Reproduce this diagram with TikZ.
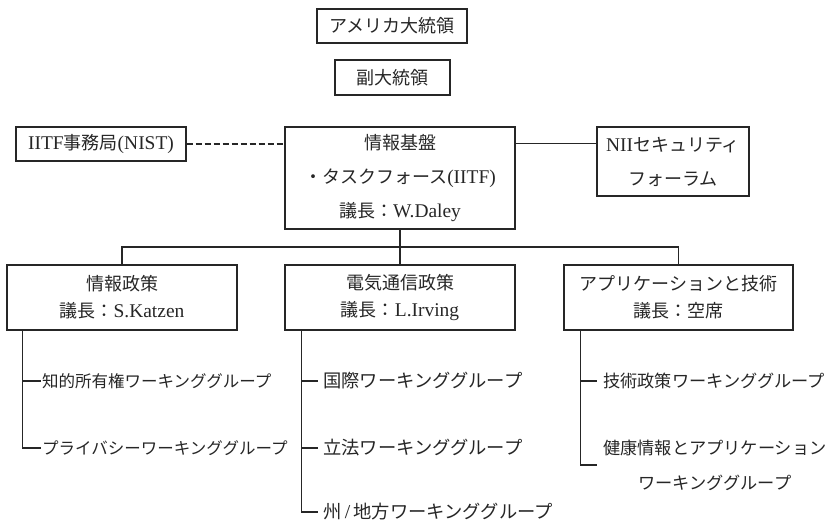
\documentclass[tikz,border=0pt]{standalone}
\usepackage{fontspec}
\setmainfont{Noto Sans CJK JP}
\newfontfamily\latserif[Scale=1.08]{Liberation Serif}
\newcommand\lt[1]{{\latserif #1}}
\definecolor{ink}{HTML}{262626}
\begin{document}
\begin{tikzpicture}[x=1pt,y=-1pt,
  box/.style={draw=ink,line width=1.2pt,inner sep=0pt,align=center,text=ink,
    font=\fontsize{18}{34}\selectfont},
  childbox/.style={box,minimum width=230pt,minimum height=65pt,
    font=\fontsize{18}{27}\selectfont},
  lblL/.style={anchor=west,inner xsep=1pt,inner ysep=0pt,text=ink,font=\fontsize{16.5}{20}\selectfont},
  lblM/.style={anchor=west,inner xsep=5pt,inner ysep=0pt,text=ink,font=\fontsize{18.3}{22}\selectfont},
  lblR/.style={anchor=west,inner xsep=6pt,inner ysep=0pt,text=ink,align=center,font=\fontsize{17.2}{35}\selectfont},
  link/.style={draw=ink,line width=1.2pt},
  dashlink/.style={draw=ink,line width=2pt,dash pattern=on 6pt off 3pt}
]
\useasboundingbox (0,0) rectangle (834,524);

% top boxes
\node[box,minimum width=150pt,minimum height=34pt] (pres) at (392,26) {アメリカ大統領};
\node[box,minimum width=115pt,minimum height=35pt] (vp) at (392.5,77.5) {副大統領};

\node[box,minimum width=170pt,minimum height=34pt] (iitf) at (101,144) {\lt{IITF}事務局\lt{(NIST)}};
\node[box,minimum width=230pt,minimum height=102pt] (core) at (400,178)
  {情報基盤\\・タスクフォース\lt{(IITF)}\\議長：\lt{W.Daley}};
\node[box,minimum width=152pt,minimum height=69pt] (nii) at (673,161.5)
  {\lt{NII}セキュリティ\\フォーラム};

\draw[dashlink] (iitf.east) -- (iitf.east -| core.west);
\draw[link] ([yshift=-17pt]core.north east) -- ([yshift=-17pt]core.north east -| nii.west);

% second level
\node[childbox] (pol) at (122,297.5) {情報政策\\議長：\lt{S.Katzen}};
\node[childbox] (tel) at (400,297.5) {電気通信政策\\議長：\lt{L.Irving}};
\node[childbox,minimum width=229pt] (app) at (678.5,297.5) {アプリケーションと技術\\議長：空席};

\coordinate (bus) at (400,247);
\draw[link] (core.south) -- (tel.north);
\draw[link] (pol.north) |- (bus) -| (app.north);

% working groups
\node[lblL] (l1) at (41,381) {知的所有権ワーキンググループ};
\node[lblL] (l2) at (41,448) {プライバシーワーキンググループ};

\node[lblM] (m1) at (318,381) {国際ワーキンググループ};
\node[lblM] (m2) at (318,448) {立法ワーキンググループ};
\node[lblM] (m3) at (318,512) {州\lt{\,/\,}地方ワーキンググループ};

\node[lblR] (r1) at (597,381) {技術政策ワーキンググループ};
\node[lblR] (r2) at (597,465) {健康情報とアプリケーション\\ワーキンググループ};

\coordinate (lt) at ([xshift=16pt]pol.south west);
\coordinate (mt) at ([xshift=17pt]tel.south west);
\coordinate (rt) at ([xshift=17pt]app.south west);

\draw[link] (lt) |- (l2.west);
\draw[link] (lt |- l1.west) -- (l1.west);

\draw[link] (mt) |- (m3.west);
\draw[link] (mt |- m1.west) -- (m1.west);
\draw[link] (mt |- m2.west) -- (m2.west);

\draw[link] (rt) |- (r2.west);
\draw[link] (rt |- r1.west) -- (r1.west);
\end{tikzpicture}
\end{document}
